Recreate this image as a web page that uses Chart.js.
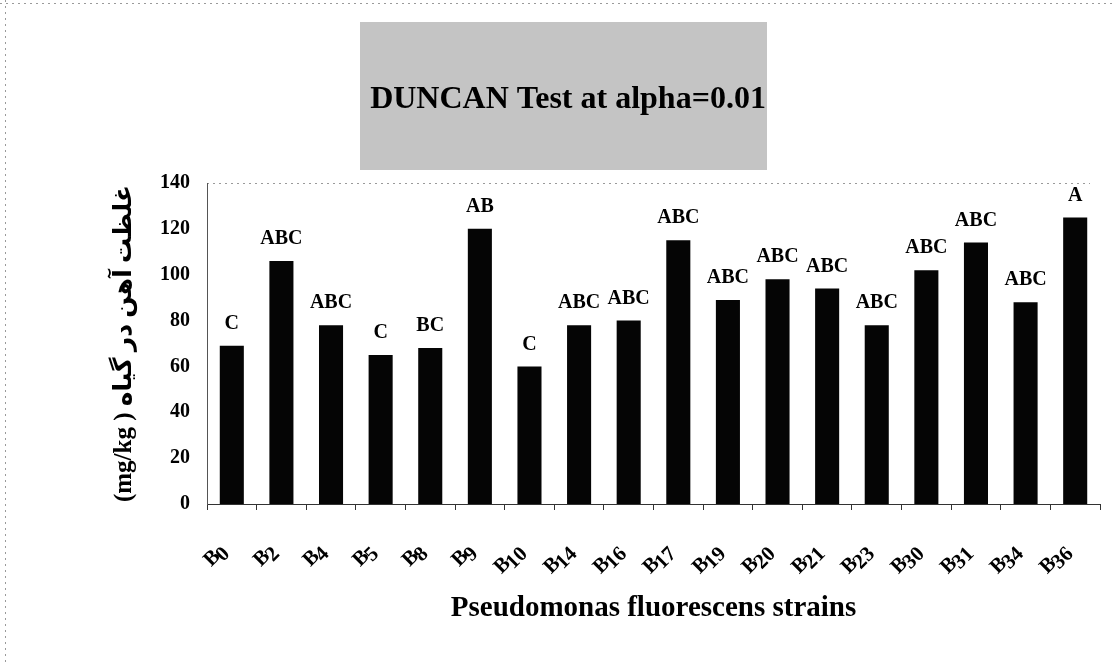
<!DOCTYPE html>
<html>
<head>
<meta charset="utf-8">
<script src="https://cdn.jsdelivr.net/npm/chart.js@4.4.1/dist/chart.umd.min.js"></script>
<style>
  html, body { margin: 0; padding: 0; background: #fff; }
  #wrap { width: 1116px; height: 665px; position: relative; }
</style>
</head>
<body>
<div id="wrap"><canvas id="c" width="1116" height="665"></canvas></div>
<script>
const strainNames = ["0","2","4","5","8","9","10","14","16","17","19","20","21","23","30","31","34","36"];
const categories = strainNames.map(n => "B" + n);
const ironValues = [69, 106, 78, 65, 68, 120, 60, 78, 80, 115, 89, 98, 94, 78, 102, 114, 88, 125];
const duncanGroups = ["C","ABC","ABC","C","BC","AB","C","ABC","ABC","ABC","ABC","ABC","ABC","ABC","ABC","ABC","ABC","A"];
const yTicks = [0, 20, 40, 60, 80, 100, 120, 140];

const chartTitle = "DUNCAN Test at alpha=0.01";
const xTitle = "Pseudomonas fluorescens strains";
const yTitle = "\u200E(mg/kg )\u200E غلظت آهن در گیاه";

const SERIF = '"Liberation Serif", "Times New Roman", "DejaVu Serif", serif';
const SERIF_AR = '"Liberation Serif", "DejaVu Sans", serif';

const decorPlugin = {
  id: 'decor',
  beforeDraw(chart) {
    const ctx = chart.ctx;
    ctx.save();
    // page frame (scan edge) dotted lines
    ctx.strokeStyle = '#9a9a9a';
    ctx.lineWidth = 1;
    ctx.setLineDash([2, 4]);
    ctx.beginPath();
    ctx.moveTo(5.5, 0); ctx.lineTo(5.5, 665);
    ctx.moveTo(0, 3.5); ctx.lineTo(1116, 3.5);
    ctx.stroke();
    // title background box
    ctx.setLineDash([]);
    ctx.fillStyle = '#c4c4c4';
    ctx.fillRect(360, 22, 407, 148);
    // title
    ctx.fillStyle = '#000';
    ctx.font = 'bold 32px ' + SERIF;
    ctx.textAlign = 'center';
    ctx.textBaseline = 'middle';
    ctx.fillText(chartTitle, 568, 100);
    // top dotted border of plot area
    const a = chart.chartArea;
    ctx.strokeStyle = '#9a9a9a';
    ctx.setLineDash([2, 4]);
    ctx.beginPath();
    ctx.moveTo(a.left, a.top + 0.5); ctx.lineTo(a.right - 10, a.top + 0.5);
    ctx.stroke();
    ctx.restore();
  },
  afterDatasetsDraw(chart) {
    const ctx = chart.ctx;
    const meta = chart.getDatasetMeta(0);
    const xs = chart.scales.x;
    ctx.save();
    ctx.fillStyle = '#000';
    // group letters above bars
    ctx.font = 'bold 20px ' + SERIF;
    ctx.textAlign = 'center';
    ctx.textBaseline = 'middle';
    meta.data.forEach((bar, i) => {
      ctx.fillText(duncanGroups[i], bar.x, bar.y - 22);
    });
    // rotated x tick labels with lowered digits
    ctx.font = 'bold 21px ' + SERIF;
    categories.forEach((lab, i) => {
      const x = xs.getPixelForValue(i);
      const y = xs.top + 42;
      const wB = ctx.measureText('B').width;
      const digits = strainNames[i];
      const wD = ctx.measureText(digits).width;
      const w = wB + wD;
      ctx.save();
      ctx.translate(x - 7, y);
      ctx.rotate(-Math.PI / 4);
      ctx.textAlign = 'left';
      ctx.textBaseline = 'middle';
      ctx.fillText('B', -w, 0);
      ctx.fillText(digits, -w + wB - 2, 5);
      ctx.restore();
    });
    ctx.restore();
  }
};

new Chart(document.getElementById('c'), {
  type: 'bar',
  data: {
    labels: categories,
    datasets: [{
      data: ironValues,
      backgroundColor: '#050505',
      borderWidth: 0,
      barPercentage: 0.485,
      categoryPercentage: 1.0
    }]
  },
  options: {
    responsive: false,
    animation: false,
    devicePixelRatio: 1,
    layout: { padding: { left: 110, right: 16, top: 183, bottom: 0 } },
    plugins: {
      legend: { display: false },
      tooltip: { enabled: false },
      title: { display: false }
    },
    scales: {
      x: {
        offset: true,
        grid: { display: true, drawOnChartArea: false, drawTicks: true, tickLength: 6, color: '#333', offset: true },
        border: { display: true, color: '#333', width: 1 },
        ticks: { display: false },
        title: {
          display: true,
          text: xTitle,
          color: '#000',
          font: { family: SERIF, size: 29, weight: 'bold' },
          padding: { top: 0, bottom: 39 }
        },
        afterFit(scale) { scale.height = 161; }
      },
      y: {
        min: 0,
        max: 140,
        afterBuildTicks(scale) { scale.ticks = yTicks.map(v => ({ value: v })); },
        grid: { display: false, drawTicks: false },
        border: { display: true, color: '#555', width: 1, dash: [3, 2] },
        ticks: {
          color: '#000',
          padding: 17,
          font: { family: SERIF, size: 20, weight: 'bold' }
        },
        title: {
          display: true,
          text: yTitle,
          color: '#000',
          font: { family: SERIF_AR, size: 25, weight: 'bold' },
          padding: { top: 0, bottom: 0 }
        },
        afterFit(scale) { scale.width = 97; }
      }
    }
  },
  plugins: [decorPlugin]
});
</script>
</body>
</html>
